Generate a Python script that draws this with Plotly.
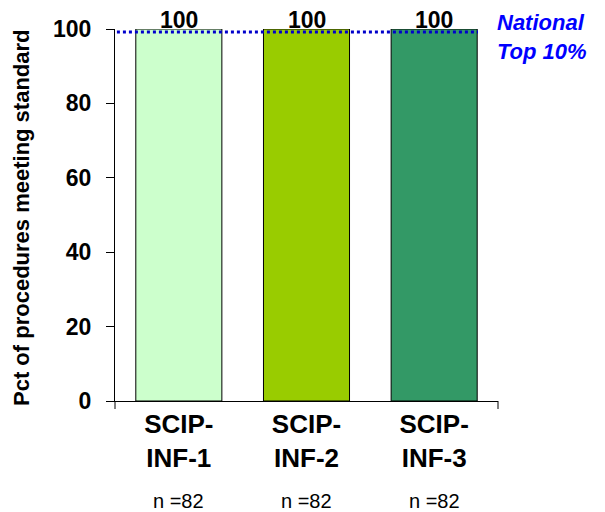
import plotly.graph_objects as go

categories = ["SCIP-<br>INF-1", "SCIP-<br>INF-2", "SCIP-<br>INF-3"]
values = [100, 100, 100]
bar_labels = ["100", "100", "100"]
n_labels = ["n =82", "n =82", "n =82"]
bar_colors = ["#CCFFCC", "#99CC00", "#339966"]
national_top10 = 99.2
y_ticks = [0, 20, 40, 60, 80, 100]

FONT = "Liberation Sans, Arial, sans-serif"

# page has an 8px body margin: compensate
OFF = 8
W, H = 605 - OFF, 512 - OFF
L, T = 115 - OFF, 29 - OFF
pw, ph = 383, 372
R = W - L - pw
B = H - T - ph
x_axis_px = 401  # in screenshot coordinates


def ypaper(y_px):
    return (x_axis_px - y_px) / ph


def xpaper(x_px):
    return (x_px - 115) / pw


fig = go.Figure()
fig.add_trace(go.Bar(
    x=categories, y=values,
    marker=dict(color=bar_colors, line=dict(color="black", width=1)),
    width=0.674,
    cliponaxis=False, hoverinfo="skip",
))

# value labels above bars
for i, lab in enumerate(bar_labels):
    fig.add_annotation(xref="x", yref="y", x=categories[i], y=values[i],
                       text=lab, showarrow=False, xanchor="center", yanchor="bottom",
                       yshift=-5, borderpad=0,
                       font=dict(family=FONT, size=23, color="black", weight="bold"))

# National top 10% reference line
fig.add_shape(type="line", xref="paper", yref="y",
              x0=0.005, x1=xpaper(478), y0=national_top10, y1=national_top10,
              line=dict(color="#0000CC", width=3, dash="dot"))
fig.add_annotation(xref="paper", yref="paper", x=xpaper(542), y=ypaper(37),
                   text="National<br>Top 10%", showarrow=False, xanchor="center", yanchor="middle",
                   borderpad=0,
                   font=dict(family=FONT, size=22, color="#0000FF", weight="bold", style="italic"),
                   align="left")

# x-axis end ticks
for xp in (0, 1):
    fig.add_shape(type="line", xref="paper", yref="paper", x0=xp, x1=xp, y0=0, y1=-8 / ph,
                  line=dict(color="black", width=1))

# n labels
for i, lab in enumerate(n_labels):
    fig.add_annotation(xref="x", yref="paper", x=categories[i], y=ypaper(501),
                       text=lab, showarrow=False, xanchor="center", yanchor="middle",
                       font=dict(family=FONT, size=20, color="black"))

# y title
fig.add_annotation(xref="paper", yref="paper", x=xpaper(21), y=ypaper(218),
                   text="Pct of procedures meeting standard", textangle=-90, showarrow=False,
                   xanchor="center", yanchor="middle",
                   font=dict(family=FONT, size=22, color="black", weight="bold"))

fig.update_layout(
    width=W, height=H,
    margin=dict(l=L, r=R, t=T, b=B, autoexpand=False),
    plot_bgcolor="white", paper_bgcolor="white",
    showlegend=False, bargap=0.326,
    xaxis=dict(showline=True, linecolor="black", linewidth=1, ticks="", showgrid=False,
               tickfont=dict(family=FONT, size=26, color="black", weight="bold"),
               ticklabelstandoff=0, fixedrange=True),
    yaxis=dict(range=[0, 100], tickvals=y_ticks, showline=True, linecolor="black", linewidth=1,
               ticks="outside", ticklen=8, tickcolor="black", showgrid=False, zeroline=False,
               tickfont=dict(family=FONT, size=23, color="black", weight="bold"),
               ticklabelstandoff=10, fixedrange=True),
)

fig.write_html("out.html")
